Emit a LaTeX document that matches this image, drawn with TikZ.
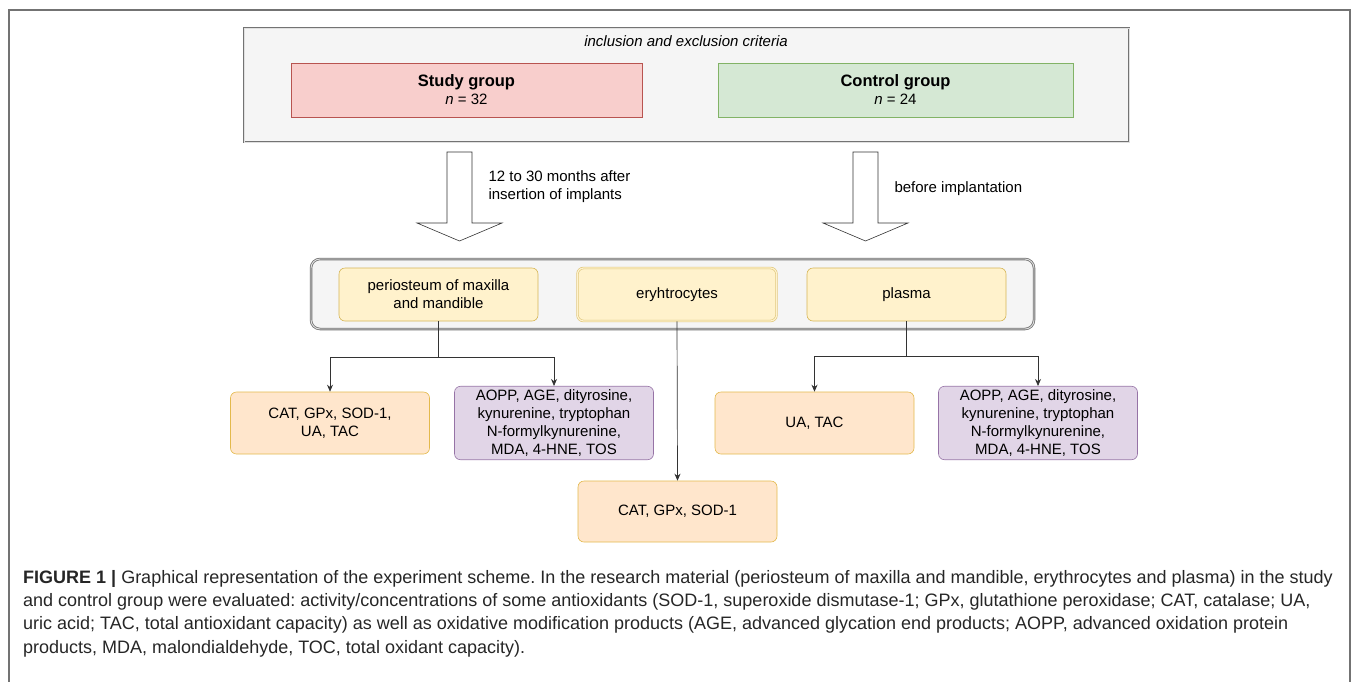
\documentclass[tikz,border=0pt]{standalone}
\usepackage{fontspec}
\setmainfont{Liberation Sans}
\newfontfamily\capfont{Liberation Sans}
\usetikzlibrary{arrows.meta,positioning,calc}
\definecolor{paneFill}{HTML}{F5F5F5}
\definecolor{redFill}{HTML}{F8CECC}
\definecolor{redLine}{HTML}{B85450}
\definecolor{greenFill}{HTML}{D5E8D4}
\definecolor{greenLine}{HTML}{82B366}
\definecolor{yellowFill}{HTML}{FFF2CC}
\definecolor{yellowLine}{HTML}{D6B656}
\definecolor{orangeFill}{HTML}{FFE6CC}
\definecolor{orangeLine}{HTML}{D79B00}
\definecolor{violetFill}{HTML}{E1D5E7}
\definecolor{violetLine}{HTML}{9673A6}

\newcommand{\fatarrow}[2]{% x of axis, y of top
  \draw[blockarrow] (#1-12.5,#2) -- (#1+12.5,#2) -- (#1+12.5,#2+71) -- (#1+42.5,#2+71)
    -- (#1,#2+89) -- (#1-42.5,#2+71) -- (#1-12.5,#2+71) -- cycle;}

\tikzset{
  txt/.style={font=\fontsize{15}{18}\selectfont},
  pane/.style={draw=black!55, double=black!12, double distance=0.9pt, line width=0.8pt, fill=paneFill},
  groupbox/.style={draw, line width=0.6pt, minimum height=54pt, align=center, txt},
  sample/.style={draw=yellowLine, fill=yellowFill, rounded corners=6pt, line width=0.6pt,
    minimum width=199pt, minimum height=53pt, align=center, txt},
  antiox/.style={draw=orangeLine!70, fill=orangeFill, rounded corners=6pt, line width=0.6pt,
    minimum width=199pt, minimum height=62pt, align=center, txt},
  oxprod/.style={antiox, draw=violetLine, fill=violetFill},
  blockarrow/.style={draw=black!80, line width=0.6pt, fill=white, line join=miter},
  conn/.style={draw=black!80, line width=0.7pt, -{Stealth[length=7pt,width=6pt]}},
}

\begin{document}
\begin{tikzpicture}[x=1pt, y=-1pt]
\useasboundingbox (0,0) rectangle (1359,681);
\draw[black!55, line width=1.2pt] (9,10) rectangle (1350,700);

% groups
\draw[pane] (244,28) rectangle (1129,142);
\node[txt, font=\fontsize{15}{18}\selectfont\itshape] (crit) at (686,41) {inclusion and exclusion criteria};
\node[groupbox, draw=redLine, fill=redFill, minimum width=351pt] (study) at (466.5,90)
  {{\fontsize{16.5}{18}\selectfont\bfseries Study group}\\\textit{n} = 32};
\node[groupbox, draw=greenLine, fill=greenFill, minimum width=355pt] (control) at (895.5,90)
  {{\fontsize{16.5}{18}\selectfont\bfseries Control group}\\\textit{n} = 24};

% arrows down
\fatarrow{459.5}{152}
\fatarrow{865.5}{152}
\node[txt, align=left, anchor=west] (after) at (485,187) {12 to 30 months after\\insertion of implants};
\node[txt, anchor=west] (before) at (891,189) {before implantation};

% material
\draw[pane, rounded corners=9pt] (311,259) rectangle (1034,329);
\node[sample] (peri) at (438.5,294.5) {periosteum of maxilla\\and mandible};
\node[sample, draw=yellowLine!80, double=yellowFill, double distance=1.2pt] (ery) at (677,294.5) {eryhtrocytes};
\node[sample] (plasma) at (906.5,294.5) {plasma};

% results
\node[antiox] (periA) at (330,423) {CAT, GPx, SOD-1,\\UA, TAC};
\node[oxprod] (periO) at (554,423) {AOPP, AGE, dityrosine,\\kynurenine, tryptophan\\N-formylkynurenine,\\MDA, 4-HNE, TOS};
\node[antiox] (plasmaA) at (814.5,423) {UA, TAC};
\node[oxprod] (plasmaO) at (1038,423) {AOPP, AGE, dityrosine,\\kynurenine, tryptophan\\N-formylkynurenine,\\MDA, 4-HNE, TOS};
\node[antiox, minimum height=61pt] (eryA) at (677.5,511.5) {CAT, GPx, SOD-1};

\draw[conn] (peri.south) -- ++(0,36) -| (periA.north);
\draw[conn] (peri.south) -- ++(0,36) -| (periO.north);
\draw[conn] (plasma.south) -- ++(0,35) -| (plasmaA.north);
\draw[conn] (plasma.south) -- ++(0,35) -| (plasmaO.north);
\draw[conn] (ery.south) -- (eryA.north);

% caption
\node[anchor=north west, align=left, inner sep=0pt, text=black!85,
  font=\capfont\fontsize{18}{23.3}\selectfont\frenchspacing] (caption) at (23,570)
  {\textbf{FIGURE 1 |} Graphical representation of the experiment scheme. In the research material (periosteum of maxilla and mandible, erythrocytes and plasma) in the study\\
  and control group were evaluated: activity/concentrations of some antioxidants (SOD-1, superoxide dismutase-1; GPx, glutathione peroxidase; CAT, catalase; UA,\\
  uric acid; TAC, total antioxidant capacity) as well as oxidative modification products (AGE, advanced glycation end products; AOPP, advanced oxidation protein\\
  products, MDA, malondialdehyde, TOC, total oxidant capacity).};
\end{tikzpicture}
\end{document}
